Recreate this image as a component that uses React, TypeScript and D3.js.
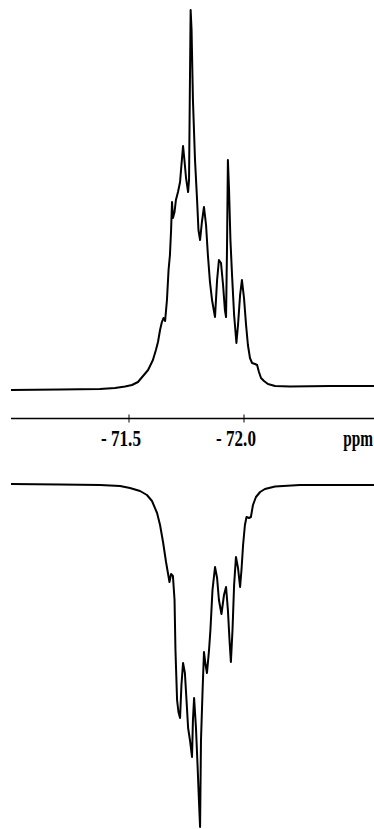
import React from "react";
import * as d3 from "d3";

// Upper spectrum: chemical shift (ppm) and intensity (arbitrary units)
const upperPpm = [
  -70.987, -71.2, -71.374, -71.439, -71.483, -71.513, -71.539, -71.561, -71.583, -71.604,
  -71.617, -71.626, -71.635, -71.643, -71.65, -71.657, -71.665, -71.672, -71.678, -71.683,
  -71.687, -71.691, -71.698, -71.704, -71.713, -71.722, -71.728, -71.735, -71.741, -71.748,
  -71.757, -71.761, -71.765, -71.768, -71.772, -71.778, -71.787, -71.796, -71.802, -71.809,
  -71.817, -71.826, -71.835, -71.843, -71.852, -71.861, -71.87, -71.874, -71.883, -71.891,
  -71.9, -71.909, -71.917, -71.922, -71.926, -71.93, -71.935, -71.941, -71.948, -71.957,
  -71.967, -71.974, -71.983, -71.991, -72.0, -72.009, -72.017, -72.026, -72.035, -72.048,
  -72.057, -72.065, -72.074, -72.087, -72.104, -72.135, -72.2, -72.374, -72.565,
];
const upperIntensity = [
  -2, -1.5, -1, 0, 1.5, 3, 6, 12, 18, 28,
  38, 46, 58, 66, 70, 67, 88, 118, 133, 158,
  186, 170, 176, 188, 196, 206, 223, 242, 228, 210,
  196, 208, 308, 378, 358, 288, 228, 188, 158, 148,
  166, 181, 163, 133, 106, 88, 76, 71, 108, 128,
  125, 103, 78, 71, 138, 228, 198, 148, 113, 73,
  45, 63, 93, 108, 90, 63, 43, 30, 25, 24,
  23, 16, 10, 7, 4, 2, 1.5, 2, 2,
];

// Lower (inverted) spectrum
const lowerPpm = [
  -70.987, -71.2, -71.374, -71.461, -71.504, -71.548, -71.578, -71.6, -71.622, -71.635,
  -71.648, -71.661, -71.67, -71.676, -71.683, -71.691, -71.698, -71.702, -71.709, -71.715,
  -71.722, -71.728, -71.735, -71.743, -71.75, -71.757, -71.765, -71.774, -71.778, -71.783,
  -71.791, -71.798, -71.804, -71.809, -71.813, -71.82, -71.826, -71.833, -71.839, -71.848,
  -71.854, -71.863, -71.874, -71.883, -71.891, -71.902, -71.913, -71.922, -71.93, -71.937,
  -71.943, -71.95, -71.957, -71.965, -71.974, -71.983, -71.989, -71.996, -72.004, -72.011,
  -72.022, -72.03, -72.039, -72.052, -72.07, -72.091, -72.135, -72.243, -72.565,
];
const lowerIntensity = [
  -1, -0.5, 0, 1, 3, 6, 10, 16, 28, 40,
  57, 77, 89, 97, 89, 91, 115, 165, 215, 227,
  233, 200, 178, 188, 215, 243, 255, 272, 235, 213,
  242, 280, 315, 342, 255, 205, 167, 180, 188, 165,
  145, 105, 82, 93, 115, 129, 110, 102, 125, 155,
  177, 145, 100, 72, 83, 102, 85, 60, 40, 32,
  33, 32, 20, 12, 7, 4, 1.5, 0, 0,
];

const tickValues = [-71.5, -72.0];
const tickLabels = ["- 71.5", "- 72.0"];
const unitLabel = "ppm";

const W = 374;
const H = 829;
const FONT = "'Liberation Serif', 'DejaVu Serif', serif";

export default function App() {
  const x = d3.scaleLinear().domain([-71.5, -72.0]).range([129, 244]);
  const yUp = d3.scaleLinear().domain([0, 378]).range([388, 10]);
  const yLo = d3.scaleLinear().domain([0, 342]).range([485, 827]);

  const upper = upperPpm.map((p, i) => [p, upperIntensity[i]] as [number, number]);
  const lower = lowerPpm.map((p, i) => [p, lowerIntensity[i]] as [number, number]);

  const lineUp = d3.line<[number, number]>().x((d) => x(d[0])).y((d) => yUp(d[1]));
  const lineLo = d3.line<[number, number]>().x((d) => x(d[0])).y((d) => yLo(d[1]));

  const axisY = 418.5;
  const axisStart = x(-70.987);
  const labelY = 446;

  return (
    <svg
      width={W}
      height={H}
      style={{ position: "absolute", left: 0, top: 0, display: "block", background: "#fff" }}
    >
      <path d={lineUp(upper) || ""} fill="none" stroke="#000" strokeWidth={2} strokeLinejoin="round" />
      <path d={lineLo(lower) || ""} fill="none" stroke="#000" strokeWidth={2} strokeLinejoin="round" />
      <line x1={axisStart} x2={W} y1={axisY} y2={axisY} stroke="#000" strokeWidth={1.4} />
      {tickValues.map((t, i) => (
        <g key={t}>
          <line x1={x(t)} x2={x(t)} y1={axisY - 4} y2={axisY + 4} stroke="#000" strokeWidth={1} />
          <text
            x={0}
            y={0}
            textAnchor="middle"
            fontFamily={FONT}
            fontWeight="bold"
            fontSize={18}
            transform={`translate(${x(t) - 8},${labelY}) scale(0.95,1.3)`}
          >
            {tickLabels[i]}
          </text>
        </g>
      ))}
      <text
        x={0}
        y={0}
        textAnchor="end"
        fontFamily={FONT}
        fontWeight="bold"
        fontSize={18}
        transform={`translate(373,${labelY}) scale(0.85,1.3)`}
      >
        {unitLabel}
      </text>
    </svg>
  );
}
